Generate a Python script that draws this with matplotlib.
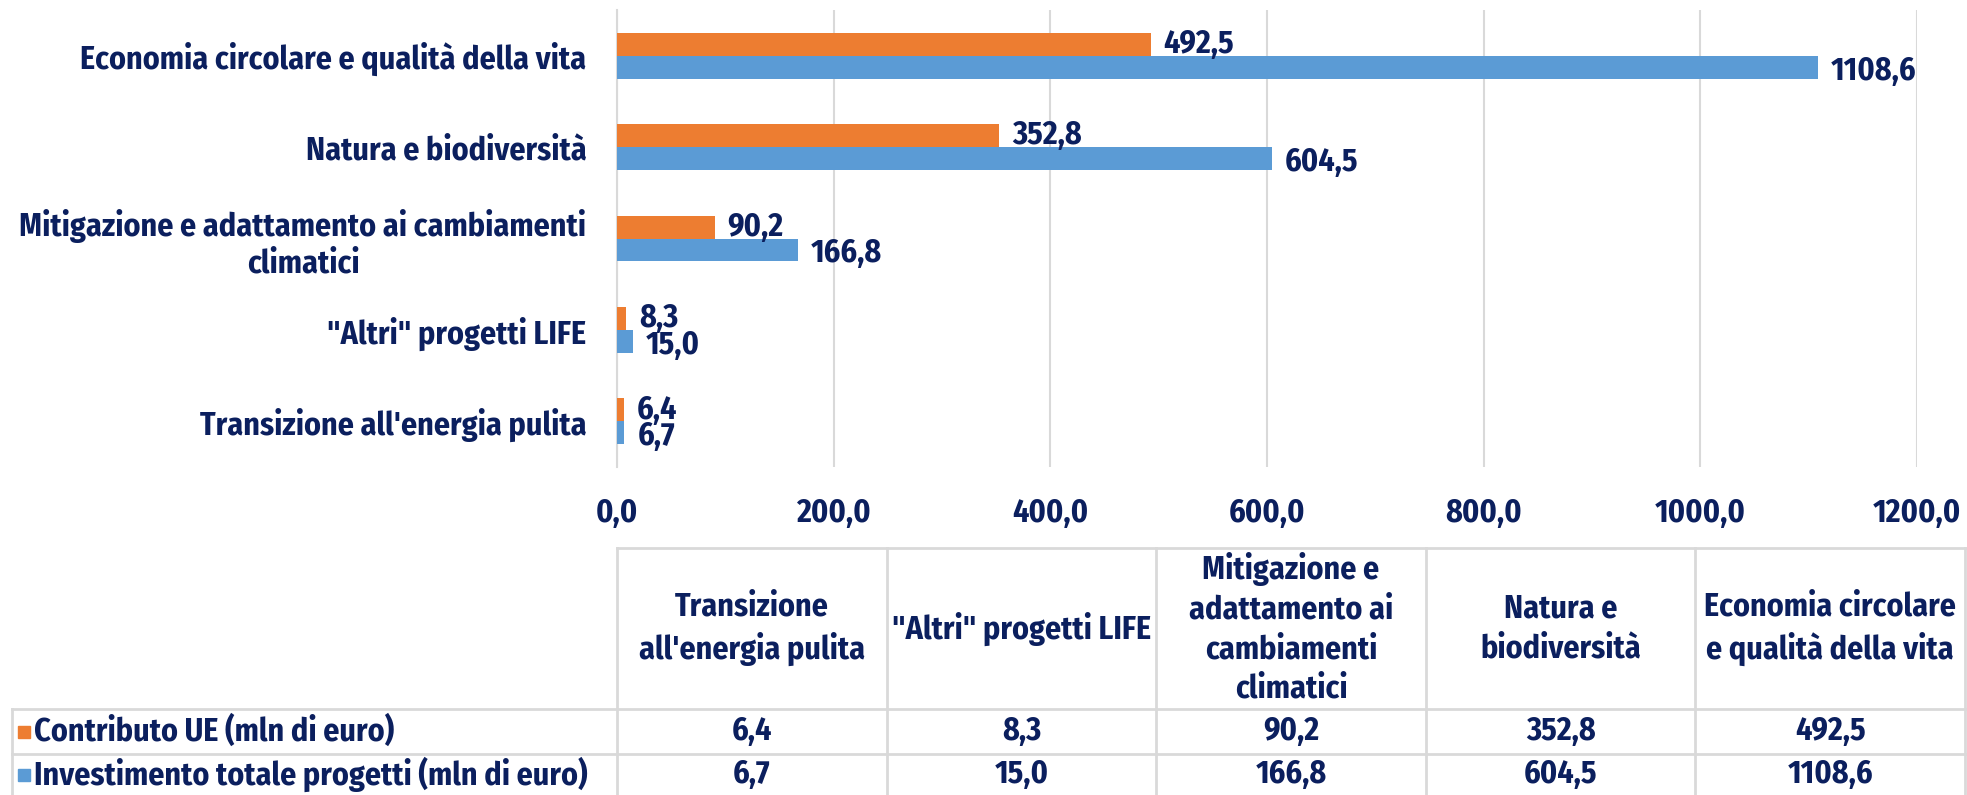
import matplotlib.pyplot as plt
import numpy as np

# Dati
categorie = ["Transizione all'energia pulita", '"Altri" progetti LIFE',
             "Mitigazione e adattamento ai cambiamenti climatici",
             "Natura e biodiversità", "Economia circolare e qualità della vita"]
etichette_asse = ["Transizione all'energia pulita", '"Altri" progetti LIFE',
                  "Mitigazione e adattamento ai cambiamenti\nclimatici",
                  "Natura e biodiversità", "Economia circolare e qualità della vita"]
etichette_tabella = ["Transizione\nall'energia pulita", '"Altri" progetti LIFE',
                     "Mitigazione e\nadattamento ai\ncambiamenti\nclimatici",
                     "Natura e\nbiodiversità", "Economia circolare\ne qualità della vita"]
contributo_ue = [6.4, 8.3, 90.2, 352.8, 492.5]
investimento = [6.7, 15.0, 166.8, 604.5, 1108.6]
serie = ["Contributo UE (mln di euro)", "Investimento totale progetti (mln di euro)"]
tick_x = [0, 200, 400, 600, 800, 1000, 1200]

ARANCIO = '#ED7D31'
BLU = '#5B9BD5'
TESTO = '#0B1F5E'
GRIGIO = '#D9D9D9'

plt.rcParams['font.family'] = ['Fira Sans Condensed', 'DejaVu Sans']
plt.rcParams['font.weight'] = 'bold'
FS = 23

W, H = 1967, 795
fig = plt.figure(figsize=(W / 100, H / 100), dpi=100)


def fmt(v):
    return f"{v:.1f}".replace('.', ',')


# Grafico a barre
x0, x1, ytop, ybot = 617, 1917, 10, 467
ax = fig.add_axes([x0 / W, 1 - ybot / H, (x1 - x0) / W, (ybot - ytop) / H])
y = np.arange(len(categorie))
h = 0.25
ax.barh(y + h / 2, contributo_ue, height=h, color=ARANCIO, zorder=3)
ax.barh(y - h / 2, investimento, height=h, color=BLU, zorder=3)
for i in range(len(categorie)):
    ax.text(contributo_ue[i] + 12, y[i] + h / 2, fmt(contributo_ue[i]), va='center', ha='left',
            fontsize=FS, color=TESTO, fontweight='bold')
    ax.text(investimento[i] + 12, y[i] - h / 2 - 0.04, fmt(investimento[i]), va='center', ha='left',
            fontsize=FS, color=TESTO, fontweight='bold')
ax.set_xlim(0, 1200)
ax.set_ylim(-0.5, len(categorie) - 0.5)
ax.set_xticks(tick_x)
ax.set_xticklabels([fmt(t) for t in tick_x], fontsize=FS, color=TESTO, fontweight='bold')
ax.set_yticks(y)
ax.set_yticklabels(etichette_asse, fontsize=FS, color=TESTO, fontweight='bold', multialignment='center')
ax.tick_params(length=0, pad=22)
ax.tick_params(axis='x', pad=22)
ax.grid(axis='x', color=GRIGIO, linewidth=1.5, zorder=0)
for s in ['top', 'right', 'bottom']:
    ax.spines[s].set_visible(False)
ax.spines['left'].set_color(GRIGIO)
ax.spines['left'].set_linewidth(1.5)

# Tabella dati
tab = fig.add_axes([0, 0, 1, 1])
tab.set_xlim(0, W)
tab.set_ylim(H, 0)
tab.axis('off')
colonne = [617 + 269.6 * k for k in range(len(categorie) + 1)]
righe = [548, 709, 754, 800]
xl = 12
lw = 2
# linee orizzontali
tab.plot([colonne[0], colonne[-1]], [righe[0], righe[0]], color=GRIGIO, lw=lw)
for r in righe[1:3]:
    tab.plot([xl, colonne[-1]], [r, r], color=GRIGIO, lw=lw)
# linee verticali
for c in colonne:
    tab.plot([c, c], [righe[0], H], color=GRIGIO, lw=lw)
tab.plot([xl, xl], [righe[1], H], color=GRIGIO, lw=lw)

for k in range(len(categorie)):
    cx = (colonne[k] + colonne[k + 1]) / 2
    tab.text(cx, (righe[0] + righe[1]) / 2, etichette_tabella[k], ha='center', va='center',
             fontsize=FS, color=TESTO, fontweight='bold', linespacing=1.32)
    tab.text(cx, (righe[1] + righe[2]) / 2, fmt(contributo_ue[k]), ha='center', va='center',
             fontsize=FS, color=TESTO, fontweight='bold')
    tab.text(cx, (righe[2] + H) / 2, fmt(investimento[k]), ha='center', va='center',
             fontsize=FS, color=TESTO, fontweight='bold')

for j, (nome, col) in enumerate(zip(serie, [ARANCIO, BLU])):
    yc = (righe[1 + j] + (righe[2 + j] if j == 0 else H)) / 2
    tab.add_patch(plt.Rectangle((18, yc - 6), 12, 12, color=col))
    tab.text(34, yc, nome, ha='left', va='center', fontsize=FS, color=TESTO, fontweight='bold')

fig.savefig('out.png', dpi=100)
